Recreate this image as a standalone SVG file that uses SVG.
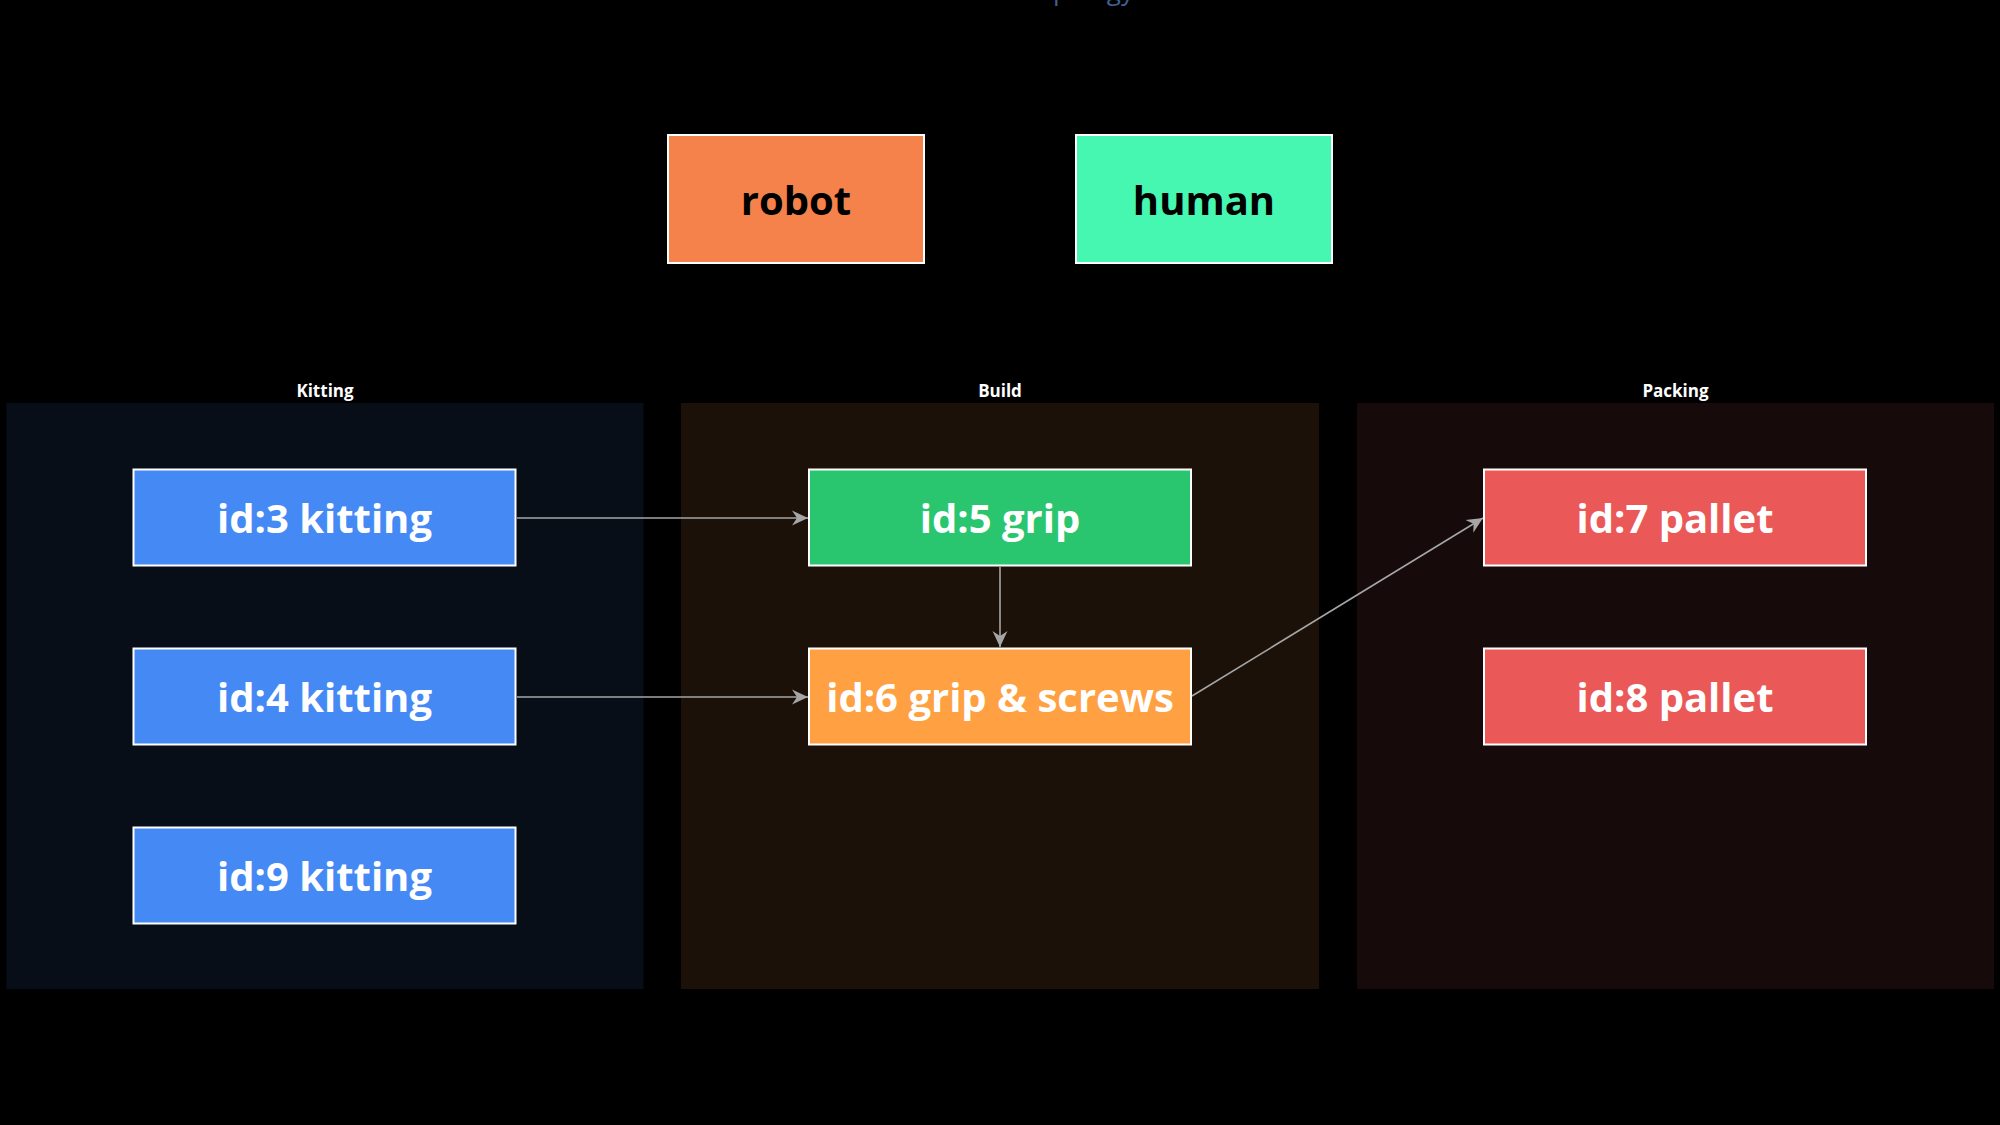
<svg xmlns="http://www.w3.org/2000/svg" width="2000" height="1125" viewBox="0 0 2000 1125">
<style>
.title{font-family:"Open Sans","Liberation Sans",sans-serif;font-size:26px;fill:#41608f;text-anchor:end}
.glabel{font-family:"Open Sans","Liberation Sans",sans-serif;font-size:17px;font-weight:700;fill:#ffffff;text-anchor:middle}
.node rect{stroke:#ffffff;stroke-width:2}
.node text{font-family:"Open Sans","Liberation Sans",sans-serif;font-size:40px;font-weight:700;fill:#ffffff;text-anchor:middle}
.legend text{fill:#000000}
.edge{stroke:#a6a6a6;stroke-width:1.6;fill:none;marker-end:url(#arr)}
</style>
<defs>
<marker id="arr" viewBox="0 0 16 16" refX="16" refY="8" markerWidth="16" markerHeight="16" markerUnits="userSpaceOnUse" orient="auto">
<path d="M0,0.5 L16,8 L0,15.5 L5,8 Z" fill="#a6a6a6"/>
</marker>
</defs>
<rect x="0" y="0" width="2000" height="1125" fill="#000000"/>
<text class="title" x="1134" y="0">Topology</text>

<g id="legend-robot" class="node legend"><rect x="668" y="135" width="256" height="128" fill="#f5824a"/><text x="796" y="215">robot</text></g>
<g id="legend-human" class="node legend"><rect x="1076" y="135" width="256" height="128" fill="#45f7b0"/><text x="1204" y="215">human</text></g>

<g id="group-kitting"><rect x="6.5" y="403" width="637" height="586" fill="#080e18"/><text class="glabel" x="325" y="397">Kitting</text></g>
<g id="group-build"><rect x="681" y="403" width="638" height="586" fill="#1b1108"/><text class="glabel" x="1000" y="397">Build</text></g>
<g id="group-packing"><rect x="1357" y="403" width="637" height="586" fill="#160a0a"/><text class="glabel" x="1675.5" y="397">Packing</text></g>

<g id="connectors">
<line class="edge" x1="517" y1="518" x2="808" y2="518"/>
<line class="edge" x1="517" y1="697" x2="808" y2="697"/>
<line class="edge" x1="1000" y1="567" x2="1000" y2="647"/>
<line class="edge" x1="1192" y1="696" x2="1483" y2="518"/>
</g>

<g id="n3" class="node"><rect x="133.5" y="469.5" width="382" height="96" fill="#4589f5"/><text x="324.5" y="533">id:3 kitting</text></g>
<g id="n4" class="node"><rect x="133.5" y="648.5" width="382" height="96" fill="#4589f5"/><text x="324.5" y="712">id:4 kitting</text></g>
<g id="n9" class="node"><rect x="133.5" y="827.5" width="382" height="96" fill="#4589f5"/><text x="324.5" y="891">id:9 kitting</text></g>
<g id="n5" class="node"><rect x="809" y="469.5" width="382" height="96" fill="#29c66f"/><text x="1000" y="533">id:5 grip</text></g>
<g id="n6" class="node"><rect x="809" y="648.5" width="382" height="96" fill="#ffa043"/><text x="1000" y="712">id:6 grip &amp; screws</text></g>
<g id="n7" class="node"><rect x="1484" y="469.5" width="382" height="96" fill="#eb5858"/><text x="1675" y="533">id:7 pallet</text></g>
<g id="n8" class="node"><rect x="1484" y="648.5" width="382" height="96" fill="#eb5858"/><text x="1675" y="712">id:8 pallet</text></g>
</svg>
